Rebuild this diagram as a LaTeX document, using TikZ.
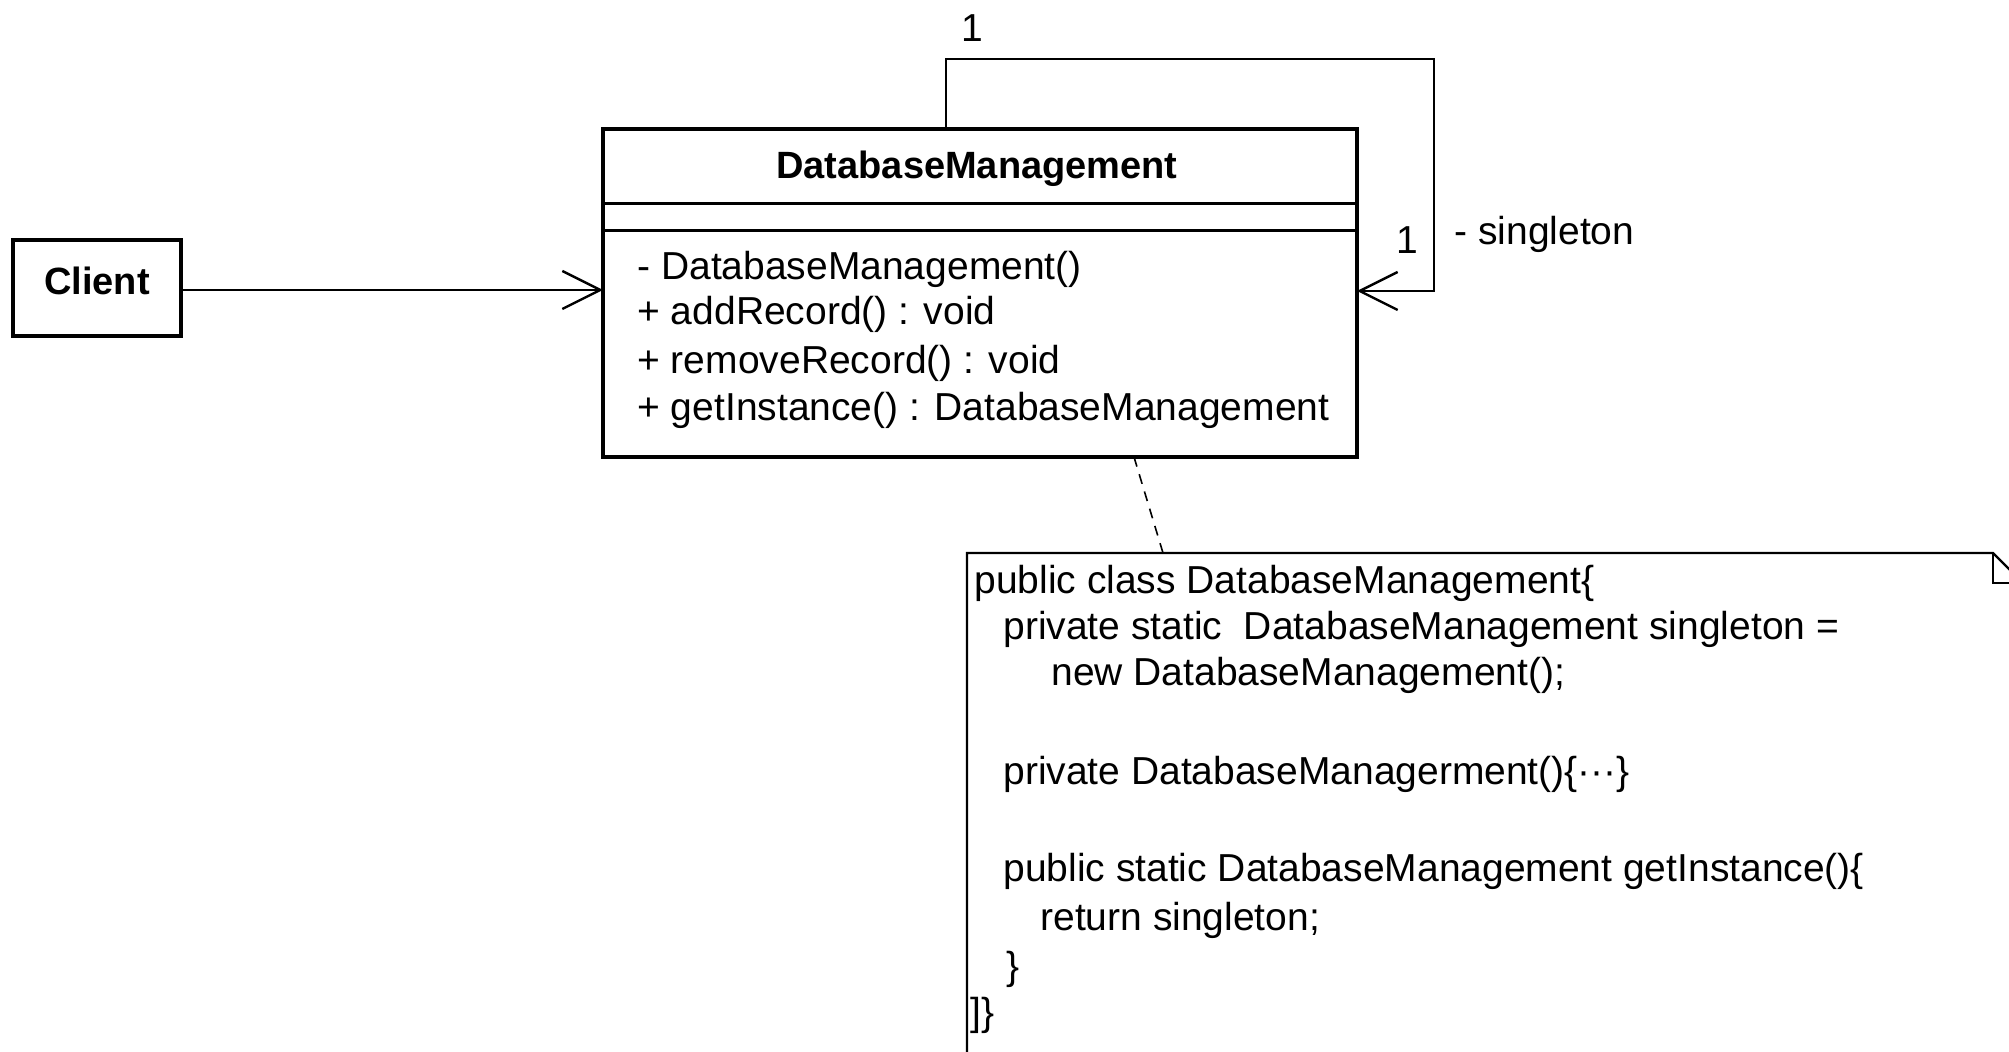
\documentclass[tikz,border=0pt]{standalone}
\usepackage{fontspec}
\setmainfont{Liberation Sans}
\usetikzlibrary{arrows.meta}

\tikzset{
  umlbox/.style={draw, line width=2pt, inner sep=0pt, outer sep=0pt},
  assoc/.style={line width=1.2pt, -{Straight Barb[length=19pt,width=19pt,line width=1.2pt]}},
  txt/.style={anchor=west, inner sep=0pt, font=\fontsize{19.5}{23}\selectfont},
  mult/.style={inner sep=0pt, font=\fontsize{19.5}{23}\selectfont},
  bold/.style={inner sep=0pt, font=\bfseries\fontsize{19}{23}\selectfont},
}

\begin{document}
\begin{tikzpicture}[x=0.5pt,y=-0.5pt]
\clip (0,0) rectangle (2009,1052);

% classes
\node[umlbox, minimum width=84pt, minimum height=48pt, text depth=7pt, font=\bfseries\fontsize{19}{23}\selectfont] (client) at (97,288) {Client};
\node[umlbox, minimum width=377pt, minimum height=164pt] (dbm) at (980,293) {};
\node[bold] (dbmname) at (977,169) {DatabaseManagement};
\draw[line width=1.5pt] (dbm.west |- 0,204) -- (dbm.east |- 0,204);
\draw[line width=1.5pt] (dbm.west |- 0,231) -- (dbm.east |- 0,231);

\node[txt] (op1) at (637,269) {- DatabaseManagement()};
\node[txt] (op2) at (637,314) {+ addRecord() : void};
\node[txt] (op3) at (637,363) {+ removeRecord() : void};
\node[txt] (op4) at (637,410) {+ getInstance() : DatabaseManagement};

% note
\node[inner sep=0pt, outer sep=0pt, anchor=north west, minimum width=528pt, minimum height=300pt] (note) at (967,553) {};
\draw[line width=1.2pt] (note.south west) -- (note.north west) -- ([xshift=-15pt]note.north east)
  -- ([yshift=-15pt]note.north east) -- (note.south east);
\draw[line width=1.2pt] ([xshift=-15pt]note.north east) -- ([xshift=-15pt,yshift=-15pt]note.north east)
  -- ([yshift=-15pt]note.north east);

\node[txt] (code1) at (974,583) {public class DatabaseManagement\{};
\node[txt] (code2) at (1003,629) {private static\ \ DatabaseManagement singleton =};
\node[txt] (code3) at (1051,675) {new DatabaseManagement();};
\node[txt] (code4) at (1003,774) {private DatabaseManagerment()\{···\}};
\node[txt] (code5) at (1003,871) {public static DatabaseManagement getInstance()\{};
\node[txt] (code6) at (1040,920) {return singleton;};
\node[txt] (code7) at (1006,969) {\}};
\node[txt] (code8) at (970,1015) {]\}};

% connectors
\coordinate (loopcorner) at (1434,59);
\draw[assoc] (client.east |- 0,290) -- (dbm.west |- 0,290);
\draw[assoc] (dbm.north -| 946,0) |- (loopcorner) |- (dbm.east |- 0,291);
\draw[line width=0.8pt, dash pattern=on 5pt off 4pt] (dbm.south -| 1134,0) -- (note.north -| 1163,0);

\node[mult] (mult1) at (972,28) {1};
\node[mult] (mult2) at (1407,240) {1};
\node[mult, anchor=west] (role) at (1454,234) {- singleton};

\end{tikzpicture}
\end{document}
